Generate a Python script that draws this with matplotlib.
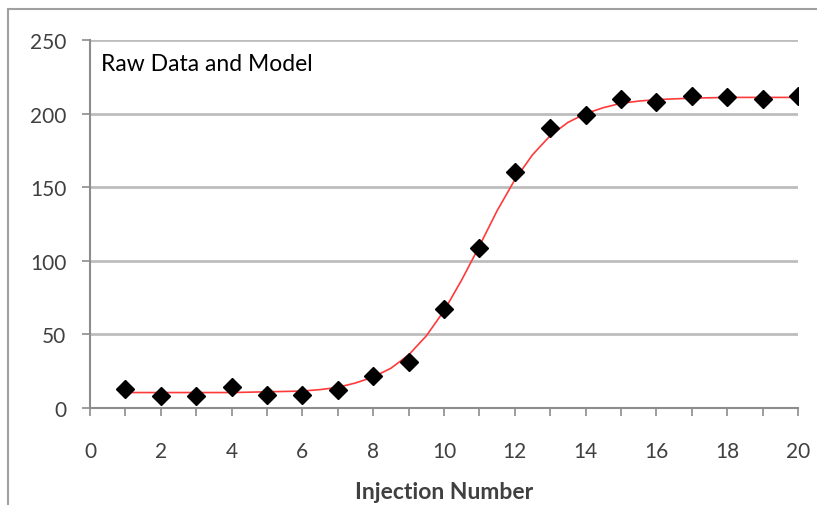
import numpy as np
import matplotlib.pyplot as plt
from matplotlib.patches import Rectangle

# raw data (injection number vs signal)
injection = list(range(1, 21))
raw_vals = [13, 8, 8, 14, 8.5, 9, 12, 22, 31, 67, 109, 160, 190, 199, 210, 208, 212, 211, 210, 212]

# model curve
model_x = [1, 1.5, 2, 3, 4, 5, 6, 6.5, 7, 7.5, 8, 8.5, 9, 9.5, 10, 10.5, 11, 11.5, 12,
           12.5, 13, 13.5, 14, 14.5, 15, 15.5, 16, 17, 18, 19, 20]
model_y = [10.5, 10.5, 10.5, 10.5, 10.5, 11, 11.5, 12.5, 14, 17, 21, 27, 36, 49, 66, 87, 110,
           134, 155, 172, 185, 194, 200, 204, 207, 208.5, 209.5, 210.5, 211, 211, 211]

plt.rcParams['font.family'] = ['Lato', 'DejaVu Sans']
txt = '#404040'
grid_c = '#bdbdbd'
spine_c = '#8c8c8c'

fig = plt.figure(figsize=(8.17, 5.06), dpi=100)
ax = fig.add_axes([90/817, 1 - 409/506, 708/817, 368/506])

ax.plot(model_x, model_y, color='#ff3a3a', lw=1.2, zorder=3)
ax.plot(injection, raw_vals, ls='none', marker='D', ms=9, color='black', zorder=4)

ax.set_xlim(0, 20)
ax.set_ylim(0, 250)
ax.set_yticks(np.arange(0, 251, 50))
ax.set_xticks(range(0, 21))
ax.set_xticklabels([str(i) if i % 2 == 0 else '' for i in range(0, 21)])
ax.grid(axis='y', color=grid_c, lw=2)
ax.set_axisbelow(True)
for s in ['top', 'right']:
    ax.spines[s].set_visible(False)
for s in ['left', 'bottom']:
    ax.spines[s].set_color(spine_c)
    ax.spines[s].set_linewidth(1.5)
ax.tick_params(axis='both', colors=spine_c, labelcolor=txt, labelsize=15, length=6, width=1.2)
ax.tick_params(axis='x', pad=18)
ax.tick_params(axis='y', pad=11)
ax.set_xlabel('Injection Number', fontsize=16.5, fontweight='bold', color=txt, labelpad=14)
ax.text(0.3, 234, 'Raw Data and Model', fontsize=16.5, color='black', va='center')

# outer chart border
fig.patches.append(Rectangle((8/817, -0.1), 1.2, 1 - 10/506 + 0.1, transform=fig.transFigure,
                             fill=False, edgecolor='#a0a0a0', lw=1.5))

fig.savefig('out.png', dpi=100)
